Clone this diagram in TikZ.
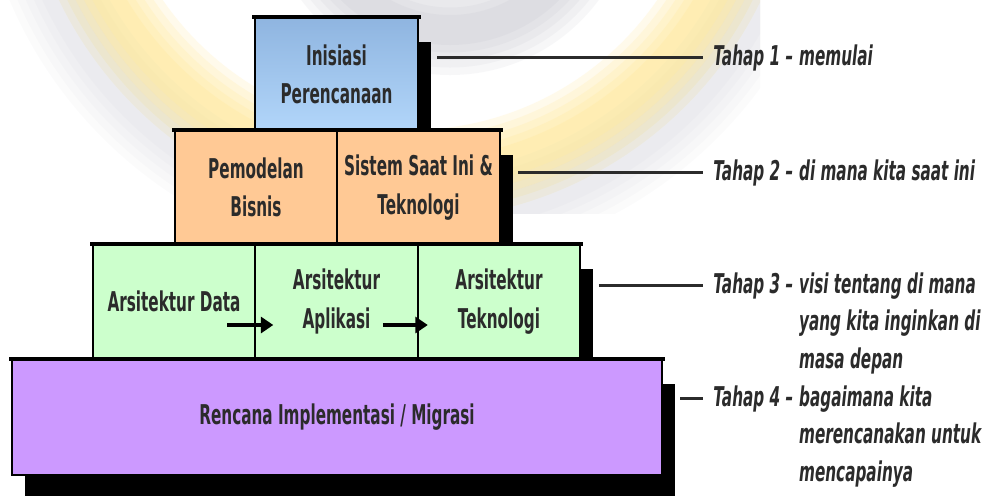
\documentclass[tikz,border=0pt]{standalone}
\usepackage{fontspec}
\setmainfont{DejaVu Sans}[FakeStretch=0.56]
\usetikzlibrary{shadows,positioning,arrows.meta}
\definecolor{blueA}{HTML}{8FB5E0}
\definecolor{blueB}{HTML}{B2D6FA}
\definecolor{peach}{HTML}{FFC995}
\definecolor{mint}{HTML}{CCFFCC}
\definecolor{lilac}{HTML}{CC99FF}
\definecolor{ink}{HTML}{2B2B2B}
\definecolor{haze}{HTML}{FFE27A}
\definecolor{smoke}{HTML}{9EA2B2}
\newcommand{\boxfont}{\bfseries\fontsize{15.5}{22}\selectfont}
\newcommand{\tagfont}{\bfseries\itshape\fontsize{15.5}{21.5}\selectfont}

\begin{document}
\begin{tikzpicture}[x=0.02cm,y=-0.02cm,
    cell/.style={draw=black,line width=1.2pt,fill=#1,text=ink,font=\boxfont,align=center,
      minimum width=3.25cm,minimum height=2.26cm,
      drop shadow={fill=black,opacity=1,shadow xshift=0.26cm,shadow yshift=-0.48cm}},
    rim/.style={line width=2.5pt,line cap=rect},
    leader/.style={draw=ink,line width=1.7pt},
    flow/.style={line width=2pt,-{Triangle[length=7pt,width=9pt]}},
    tag/.style={inner sep=0pt,text=ink,font=\tagfont,align=left}]
  \useasboundingbox (0,0) rectangle (990,495);
  \fill[white] (0,0) rectangle (990,495);
  % faded logo behind
  \begin{scope}
    \clip (0,0) rectangle (760,213);
    \foreach \w in {90,75,60,45,30}{
      \draw[smoke,opacity=.04,line width=\w*0.02cm] (410,-170) circle (390);
      \draw[haze,opacity=.15,line width=\w*0.02cm] (410,-170) circle (345);
      \draw[smoke,opacity=.08,line width=\w*0.02cm] (450,-110) circle (140);
    }
  \end{scope}

  % pyramid
  \node[cell=blueB,top color=blueA,bottom color=blueB,minimum width=3.26cm] (init) at (336.5,74.5) {Inisiasi\\Perencanaan};
  \draw[rim] (init.north west) -- (init.north east);

  \node[cell=peach] (pem) at (256,187.5) {Pemodelan\\Bisnis};
  \node[cell=peach] (sis) at (418.5,187.5) {Sistem Saat Ini \&\\Teknologi};
  \draw[rim] (pem.north west) -- (sis.north east);

  \node[cell=mint] (data) at (174,301.5) {Arsitektur Data};
  \node[cell=mint] (apl) at (336.5,301.5) {Arsitektur\\Aplikasi};
  \node[cell=mint] (tek) at (499,301.5) {Arsitektur\\Teknologi};
  \draw[rim] (data.north west) -- (tek.north east);
  \draw[flow] ([shift={(-29,23.5)}]data.east) -- ([shift={(17,23.5)}]data.east);
  \draw[flow] ([shift={(-36,23.5)}]apl.east) -- ([shift={(9,23.5)}]apl.east);

  \node[cell=lilac,minimum width=13cm,minimum height=2.3cm] (mig) at (337,417.5) {Rencana Implementasi / Migrasi};
  \draw[rim] (mig.north west) -- (mig.north east);

  % stages
  \node[tag,anchor=base west] (h1) at (713,65) {Tahap 1 –};
  \node[tag,right=3pt of h1.north east,anchor=north west] (b1) {memulai};
  \node[tag,anchor=base west] (h2) at (713,180) {Tahap 2 –};
  \node[tag,right=3pt of h2.north east,anchor=north west] (b2) {di mana kita saat ini};
  \node[tag,anchor=base west] (h3) at (713,293) {Tahap 3 –};
  \node[tag,right=3pt of h3.north east,anchor=north west] (b3) {visi tentang di mana\\yang kita inginkan di\\masa depan};
  \node[tag,anchor=base west] (h4) at (713,406) {Tahap 4 –};
  \node[tag,right=3pt of h4.north east,anchor=north west] (b4) {bagaimana kita\\merencanakan untuk\\mencapainya};

  \draw[leader] ([xshift=0.36cm]init.east |- h1.west) -- ([xshift=-0.2cm]h1.west);
  \draw[leader] ([xshift=0.35cm]sis.east |- h2.west) -- ([xshift=-0.2cm]h2.west);
  \draw[leader] ([xshift=0.35cm]tek.east |- h3.west) -- ([xshift=-0.2cm]h3.west);
  \draw[leader] ([xshift=0.35cm]mig.east |- h4.west) -- ([xshift=-0.2cm]h4.west);
\end{tikzpicture}
\end{document}
